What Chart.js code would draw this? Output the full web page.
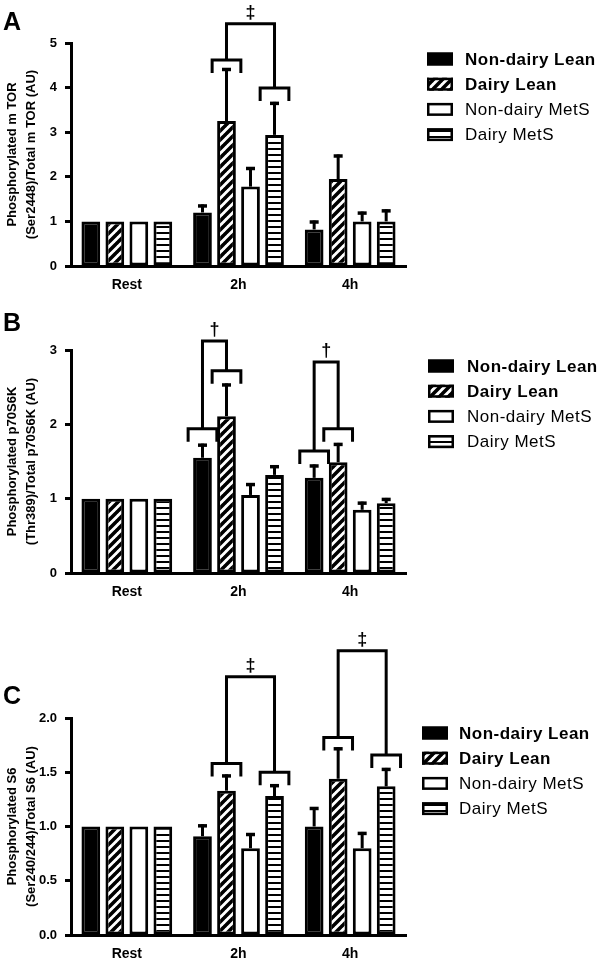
<!DOCTYPE html>
<html>
<head>
<meta charset="UTF-8">
<title>mTOR / p70S6K / S6 phosphorylation</title>
<script src="https://cdn.jsdelivr.net/npm/chart.js"></script>
<style>
  body { margin: 0; background: #fff; }
  .panel { position: absolute; left: 0; width: 600px; }
</style>
</head>
<body>
<div class="panel" style="top:0"><canvas id="mtorChart" width="600" height="305"></canvas></div>
<div class="panel" style="top:305px"><canvas id="p70Chart" width="600" height="315"></canvas></div>
<div class="panel" style="top:620px"><canvas id="s6Chart" width="600" height="342"></canvas></div>

<script>
    const FONT = "'Liberation Sans', Arial, sans-serif";

    const groups = ['Rest', '2h', '4h'];
    const seriesNames = ['Non-dairy Lean', 'Dairy Lean', 'Non-dairy MetS', 'Dairy MetS'];
    const boldLegend = [true, true, false, false];

    // A - mTOR (means, then SEM)
    const mtorNonDairyLean = [1, 1.2, 0.82];
    const mtorDairyLean = [1, 3.25, 1.95];
    const mtorNonDairyMetS = [1, 1.78, 1.0];
    const mtorDairyMetS = [1, 2.94, 1.0];
    const mtorSemNonDairyLean = [0, 0.18, 0.2];
    const mtorSemDairyLean = [0, 1.19, 0.55];
    const mtorSemNonDairyMetS = [0, 0.44, 0.22];
    const mtorSemDairyMetS = [0, 0.74, 0.27];
    const mtorTicks = [0, 5, 1];

    // B - p70S6K
    const p70NonDairyLean = [1, 1.55, 1.28];
    const p70DairyLean = [1, 2.11, 1.49];
    const p70NonDairyMetS = [1, 1.05, 0.85];
    const p70DairyMetS = [1, 1.32, 0.94];
    const p70SemNonDairyLean = [0, 0.19, 0.18];
    const p70SemDairyLean = [0, 0.44, 0.26];
    const p70SemNonDairyMetS = [0, 0.16, 0.11];
    const p70SemDairyMetS = [0, 0.13, 0.07];
    const p70Ticks = [0, 3, 1];

    // C - S6
    const s6NonDairyLean = [1, 0.91, 1.0];
    const s6DairyLean = [1, 1.33, 1.44];
    const s6NonDairyMetS = [1, 0.80, 0.80];
    const s6DairyMetS = [1, 1.28, 1.37];
    const s6SemNonDairyLean = [0, 0.11, 0.18];
    const s6SemDairyLean = [0, 0.15, 0.29];
    const s6SemNonDairyMetS = [0, 0.14, 0.15];
    const s6SemDairyMetS = [0, 0.11, 0.17];
    const s6Ticks = [0, 2, 0.5];

    // significance brackets: group index, the two series, bracket levels and top line (axis units)
    const mtorBrackets = [
        { group: 1, left: 1, right: 3, leftY: 4.62, rightY: 3.99, topY: 5.43, mark: '‡' }
    ];
    const p70Brackets = [
        { group: 1, left: 0, right: 1, leftY: 1.94, rightY: 2.72, topY: 3.12, mark: '†' },
        { group: 2, left: 0, right: 1, leftY: 1.64, rightY: 1.94, topY: 2.84, mark: '†' }
    ];
    const s6Brackets = [
        { group: 1, left: 1, right: 3, leftY: 1.58, rightY: 1.50, topY: 2.38, mark: '‡' },
        { group: 2, left: 1, right: 3, leftY: 1.82, rightY: 1.66, topY: 2.62, mark: '‡' }
    ];

    function makeFills(ctx) {
        const diag = document.createElement('canvas');
        diag.width = 9; diag.height = 9;
        const d = diag.getContext('2d');
        d.fillStyle = '#fff'; d.fillRect(0, 0, 9, 9);
        d.strokeStyle = '#000'; d.lineWidth = 3.6;
        d.beginPath();
        d.moveTo(-1, 10); d.lineTo(10, -1);
        d.moveTo(-1, 1); d.lineTo(1, -1);
        d.moveTo(8, 10); d.lineTo(10, 8);
        d.stroke();

        const horiz = document.createElement('canvas');
        horiz.width = 6; horiz.height = 6;
        const h = horiz.getContext('2d');
        h.fillStyle = '#fff'; h.fillRect(0, 0, 6, 6);
        h.fillStyle = '#000'; h.fillRect(0, 4, 6, 2);

        return ['#000', ctx.createPattern(diag, 'repeat'), '#fff', ctx.createPattern(horiz, 'repeat')];
    }

    function decorPlugin(cfg) {
        return {
            id: 'decor',
            afterDatasetsDraw(chart) {
                const ctx = chart.ctx, y = chart.scales.y;
                ctx.save();
                ctx.strokeStyle = '#000';
                cfg.sem.forEach((s, i) => {
                    const meta = chart.getDatasetMeta(i);
                    s.forEach((e, j) => {
                        if (!e) return;
                        const bar = meta.data[j];
                        const top = y.getPixelForValue(chart.data.datasets[i].data[j] + e);
                        ctx.lineWidth = 3;
                        ctx.beginPath(); ctx.moveTo(bar.x, bar.y); ctx.lineTo(bar.x, top); ctx.stroke();
                        ctx.lineWidth = 3.5;
                        ctx.beginPath(); ctx.moveTo(bar.x - 4.5, top + 1.5); ctx.lineTo(bar.x + 4.5, top + 1.5); ctx.stroke();
                    });
                });
                ctx.restore();
            },
            afterDraw(chart) {
                const ctx = chart.ctx, y = chart.scales.y;
                ctx.save();
                ctx.strokeStyle = '#000';
                ctx.fillStyle = '#000';
                ctx.lineWidth = 3;
                ctx.lineJoin = 'miter';
                cfg.brackets.forEach(b => {
                    const barA = chart.getDatasetMeta(b.left).data[b.group];
                    const barB = chart.getDatasetMeta(b.right).data[b.group];
                    const xa = barA.x, xb = barB.x;
                    const half = barA.width / 2 + 5;
                    const ya = y.getPixelForValue(b.leftY);
                    const yb = y.getPixelForValue(b.rightY);
                    const yt = y.getPixelForValue(b.topY);
                    ctx.beginPath();
                    ctx.moveTo(xa - half, ya + 13); ctx.lineTo(xa - half, ya); ctx.lineTo(xa + half, ya); ctx.lineTo(xa + half, ya + 13);
                    ctx.moveTo(xb - half, yb + 13); ctx.lineTo(xb - half, yb); ctx.lineTo(xb + half, yb); ctx.lineTo(xb + half, yb + 13);
                    ctx.moveTo(xa, ya); ctx.lineTo(xa, yt); ctx.lineTo(xb, yt); ctx.lineTo(xb, yb);
                    ctx.stroke();
                    ctx.font = 'bold 18px ' + FONT;
                    ctx.textAlign = 'center';
                    ctx.textBaseline = 'bottom';
                    ctx.fillText(b.mark, (xa + xb) / 2, yt - 2);
                });

                // panel letter
                ctx.font = 'bold 25px ' + FONT;
                ctx.textAlign = 'left';
                ctx.textBaseline = 'middle';
                ctx.fillText(cfg.letter, 3, cfg.letterY);

                // legend
                const fills = chart.data.datasets.map(ds => ds.backgroundColor);
                seriesNames.forEach((name, i) => {
                    const cy = cfg.legendY + i * 25.2;
                    ctx.fillStyle = fills[i];
                    ctx.fillRect(cfg.legendX, cy - 6.5, 26, 13);
                    ctx.lineWidth = 2.5;
                    ctx.strokeRect(cfg.legendX + 1.25, cy - 5.25, 23.5, 10.5);
                    ctx.fillStyle = '#000';
                    ctx.font = (boldLegend[i] ? 'bold ' : '') + '17px ' + FONT;
                    ctx.letterSpacing = '0.5px';
                    ctx.textBaseline = 'middle';
                    ctx.fillText(name, cfg.textX, cy + 1);
                    ctx.letterSpacing = '0px';
                });
                ctx.restore();
            }
        };
    }

    function drawPanel(id, series, sem, ticks, title, decimals, brackets, deco, pad) {
        const ctx = document.getElementById(id).getContext('2d');
        const fills = makeFills(ctx);
        new Chart(ctx, {
            type: 'bar',
            data: {
                labels: groups,
                datasets: series.map((values, i) => ({
                    label: seriesNames[i],
                    data: values,
                    backgroundColor: fills[i],
                    borderColor: '#000',
                    borderWidth: 3,
                    borderSkipped: false,
                    categoryPercentage: 0.86,
                    barPercentage: 0.78
                }))
            },
            options: {
                responsive: false,
                animation: false,
                devicePixelRatio: 1,
                layout: { padding: pad },
                plugins: { legend: { display: false }, tooltip: { enabled: false } },
                scales: {
                    x: {
                        grid: { display: false, drawTicks: false },
                        border: { display: true, width: 3, color: '#000' },
                        ticks: { color: '#000', padding: 11, font: { family: FONT, size: 14, weight: 'bold' } },
                        afterFit: s => { s.height = 27; }
                    },
                    y: {
                        min: ticks[0],
                        max: ticks[1],
                        ticks: {
                            stepSize: ticks[2],
                            color: '#000',
                            padding: 8,
                            font: { family: FONT, size: 13, weight: 'bold' },
                            callback: v => decimals ? v.toFixed(1) : v
                        },
                        grid: { drawOnChartArea: false, drawTicks: true, tickLength: 6, tickWidth: 3, tickColor: '#000' },
                        border: { display: true, width: 3, color: '#000' },
                        title: {
                            display: true,
                            text: title,
                            color: '#000',
                            padding: { top: 3, bottom: 0 },
                            font: { family: FONT, size: 13, weight: 'bold', lineHeight: 1.45 }
                        },
                        afterFit: s => { s.width = 71; }
                    }
                }
            },
            plugins: [decorPlugin(Object.assign({ sem: sem, brackets: brackets }, deco))]
        });
    }

    drawPanel('mtorChart',
        [mtorNonDairyLean, mtorDairyLean, mtorNonDairyMetS, mtorDairyMetS],
        [mtorSemNonDairyLean, mtorSemDairyLean, mtorSemNonDairyMetS, mtorSemDairyMetS],
        mtorTicks, ['Phosphorylated m TOR', '(Ser2448)/Total m TOR (AU)'], false, mtorBrackets,
        { letter: 'A', letterY: 23, legendX: 427, legendY: 59, textX: 465 },
        { top: 43, bottom: 12, left: 0, right: 194 });

    drawPanel('p70Chart',
        [p70NonDairyLean, p70DairyLean, p70NonDairyMetS, p70DairyMetS],
        [p70SemNonDairyLean, p70SemDairyLean, p70SemNonDairyMetS, p70SemDairyMetS],
        p70Ticks, ['Phosphorylated p70S6K', '(Thr389)/Total p70S6K (AU)'], false, p70Brackets,
        { letter: 'B', letterY: 19, legendX: 428, legendY: 61, textX: 467 },
        { top: 45, bottom: 20, left: 0, right: 194 });

    drawPanel('s6Chart',
        [s6NonDairyLean, s6DairyLean, s6NonDairyMetS, s6DairyMetS],
        [s6SemNonDairyLean, s6SemDairyLean, s6SemNonDairyMetS, s6SemDairyMetS],
        s6Ticks, ['Phosphorylated S6', '(Ser240/244)/Total S6 (AU)'], true, s6Brackets,
        { letter: 'C', letterY: 77, legendX: 422, legendY: 113, textX: 459 },
        { top: 98, bottom: 0, left: 0, right: 194 });
</script>
</body>
</html>
